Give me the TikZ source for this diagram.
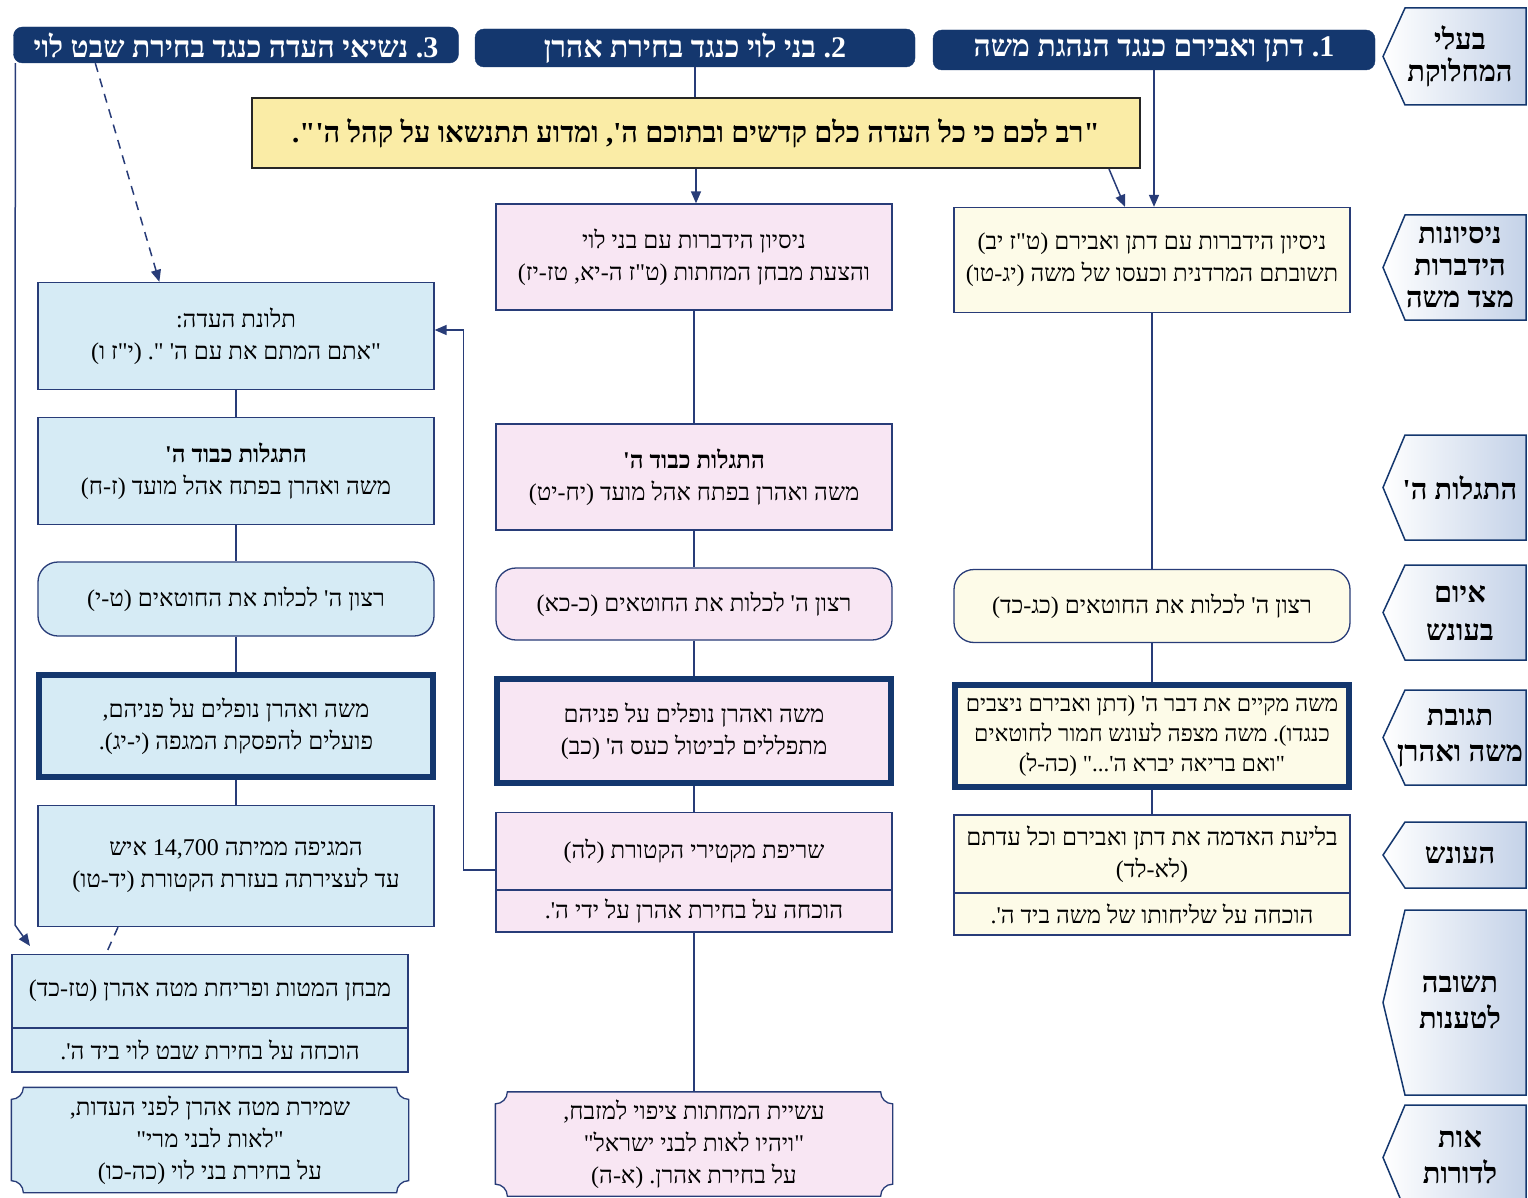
\documentclass[tikz,border=0pt]{standalone}
\usepackage{fontspec}
\setmainfont{Liberation Serif}
\newfontfamily\hebfont[Script=Hebrew]{Liberation Serif}
\TeXXeTstate=1
\frenchspacing
\usetikzlibrary{arrows.meta,calc,backgrounds}

\newcommand{\heb}[1]{\beginR #1\endR}
\newcommand{\scrollframe}[2]{%
  \draw[draw=boxblue, line width=1.3pt, fill=#2]
    ($(#1.north west)+(12pt,0pt)$) -- ($(#1.north east)+(-12pt,0pt)$)
    arc[start angle=180, end angle=270, radius=12pt]
    -- ($(#1.south east)+(0pt,12pt)$)
    arc[start angle=90, end angle=180, radius=12pt]
    -- ($(#1.south west)+(12pt,0pt)$)
    arc[start angle=0, end angle=90, radius=12pt]
    -- ($(#1.north west)+(0pt,-12pt)$)
    arc[start angle=270, end angle=360, radius=12pt] -- cycle;}

\definecolor{navy}{RGB}{20,55,110}
\definecolor{boxblue}{RGB}{40,60,120}
\definecolor{lblue}{RGB}{214,235,245}
\definecolor{lpink}{RGB}{248,230,243}
\definecolor{lcream}{RGB}{253,251,232}
\definecolor{qyellow}{RGB}{250,236,166}
\definecolor{tabblue}{RGB}{196,210,232}

\tikzset{
  box/.style={draw=boxblue, line width=1.3pt, minimum width=396pt, align=center,
    inner sep=3pt, font=\hebfont\fontsize{24}{32}\selectfont},
  bluebox/.style={box, fill=lblue},
  pinkbox/.style={box, fill=lpink},
  creambox/.style={box, fill=lcream},
  roundbox/.style={rounded corners=20pt},
  thickbox/.style={draw=navy, line width=6pt, minimum width=394pt},
  scrollbox/.style={box, draw=none},
  header/.style={fill=navy, draw=navy, rounded corners=9pt, text=white,
    font=\hebfont\bfseries\fontsize{30}{34}\selectfont},
  quotebox/.style={draw=black!85, line width=2pt, fill=qyellow, minimum width=888pt,
    minimum height=70pt, font=\hebfont\bfseries\fontsize{29}{34}\selectfont},
  tab/.style={draw=navy, line width=1.5pt, left color=white, right color=tabblue},
  tabtext/.style={align=center, font=\hebfont\bfseries\fontsize{29}{32}\selectfont},
  line/.style={draw=boxblue, line width=1.5pt},
  arr/.style={line, -{Triangle[width=10pt,length=12pt]}}
}

\begin{document}
\begin{tikzpicture}[x=1pt,y=-1pt]
\useasboundingbox (0,0) rectangle (1528,1198);

% side tabs
\foreach \nm/\ya/\yb/\txt in {
  tparties/8/105/{\heb{בעלי}\\\heb{המחלוקת}},
  ttalks/215/320/{\heb{ניסיונות}\\\heb{הידברות}\\\heb{מצד משה}},
  tglory/435/540/{\heb{התגלות ה'}},
  tthreat/565/660/{\heb{איום}\\[6pt]\heb{בעונש}},
  treact/690/785/{\heb{תגובת}\\[4pt]\heb{משה ואהרן}},
  tpunish/822/888/{\heb{העונש}},
  tanswer/910/1095/{\heb{תשובה}\\[4pt]\heb{לטענות}},
  tsign/1105/1210/{\heb{אות}\\[4pt]\heb{לדורות}}}
{
  \draw[tab] (1405,\ya) -- (1526,\ya) -- (1526,\yb) -- (1405,\yb)
    -- (1383,{(\ya+\yb)/2}) -- cycle;
  \node[tabtext] (\nm) at (1460,{(\ya+\yb)/2}) {\txt};
}

% headers
\node[header, minimum width=442pt, minimum height=40pt] (h1) at (1154,50)
  {\heb{1. דתן ואבירם כנגד הנהגת משה}};
\node[header, minimum width=440pt, minimum height=38pt] (h2) at (695,48)
  {\heb{2. בני לוי כנגד בחירת אהרן}};
\node[header, minimum width=445pt, minimum height=36pt] (h3) at (236,45)
  {\heb{3. נשיאי העדה כנגד בחירת שבט לוי}};

\node[quotebox] (q) at (696,133)
  {\heb{"רב לכם כי כל העדה כלם קדשים ובתוכם ה', ומדוע תתנשאו על קהל ה'".}};

% Dathan and Abiram
\node[creambox, minimum height=105pt] (dtalk) at (1152,260)
  {\heb{ניסיון הידברות עם דתן ואבירם (ט"ז יב)}\\\heb{תשובתם המרדנית וכעסו של משה (יג-טו)}};
\node[creambox, roundbox, minimum height=73pt] (dwill) at (1152,606)
  {\heb{רצון ה' לכלות את החוטאים (כג-כד)}};
\node[creambox, thickbox, minimum height=102pt, font=\hebfont\fontsize{23}{30}\selectfont]
  (dreact) at (1152,736)
  {\heb{משה מקיים את דבר ה' (דתן ואבירם ניצבים}\\\heb{כנגדו). משה מצפה לעונש חמור לחוטאים}\\\heb{"ואם בריאה יברא ה'..." (כה-ל)}};
\node[creambox, minimum height=78pt] (dpunish) at (1152,854)
  {\heb{בליעת האדמה את דתן ואבירם וכל עדתם}\\\heb{(לא-לד)}};
\node[creambox, minimum height=42pt] (dproof) at (1152,914)
  {\heb{הוכחה על שליחותו של משה ביד ה'.}};

% sons of Levi
\node[pinkbox, minimum height=106pt] (lttalk) at (694,257)
  {\heb{ניסיון הידברות עם בני לוי}\\\heb{והצעת מבחן המחתות (ט"ז ה-יא, טז-יז)}};
\node[pinkbox, minimum height=106pt] (lglory) at (694,477)
  {\heb{\textbf{התגלות כבוד ה'}}\\\heb{משה ואהרן בפתח אהל מועד (יח-יט)}};
\node[pinkbox, roundbox, minimum height=72pt] (lwill) at (694,604)
  {\heb{רצון ה' לכלות את החוטאים (כ-כא)}};
\node[pinkbox, thickbox, minimum height=104pt] (lreact) at (694,731)
  {\heb{משה ואהרן נופלים על פניהם}\\\heb{מתפללים לביטול כעס ה' (כב)}};
\node[pinkbox, minimum height=77pt] (lburn) at (694,851)
  {\heb{שריפת מקטירי הקטורת (לה)}};
\node[pinkbox, minimum height=42pt] (lproof) at (694,911)
  {\heb{הוכחה על בחירת אהרן על ידי ה'.}};
\node[scrollbox, minimum height=103pt] (lsign) at (694,1144)
  {\heb{עשיית המחתות ציפוי למזבח,}\\\heb{"ויהיו לאות לבני ישראל"}\\\heb{על בחירת אהרן. (א-ה)}};

% leaders of the congregation
\node[bluebox, minimum height=107pt] (kcomplain) at (236,336)
  {\heb{תלונת העדה:}\\\heb{"אתם המתם את עם ה' ". (י"ז ו)}};
\node[bluebox, minimum height=107pt] (kglory) at (236,471)
  {\heb{\textbf{התגלות כבוד ה'}}\\\heb{משה ואהרן בפתח אהל מועד (ז-ח)}};
\node[bluebox, roundbox, minimum height=74pt] (kwill) at (236,599)
  {\heb{רצון ה' לכלות את החוטאים (ט-י)}};
\node[bluebox, thickbox, minimum height=102pt] (kreact) at (236,726)
  {\heb{משה ואהרן נופלים על פניהם,}\\\heb{פועלים להפסקת המגפה (י-יג).}};
\node[bluebox, minimum height=121pt] (kplague) at (236,866)
  {\heb{המגיפה ממיתה \beginL 14,700\endL{} איש}\\\heb{עד לעצירתה בעזרת הקטורת (יד-טו)}};
\node[bluebox, minimum height=73pt] (krods) at (210,991)
  {\heb{מבחן המטות ופריחת מטה אהרן (טז-כד)}};
\node[bluebox, minimum height=44pt] (kproof) at (210,1050)
  {\heb{הוכחה על בחירת שבט לוי ביד ה'.}};
\node[scrollbox, minimum height=104pt] (ksign) at (210,1140)
  {\heb{שמירת מטה אהרן לפני העדות,}\\\heb{"לאות לבני מרי"}\\\heb{על בחירת בני לוי (כה-כו)}};

\begin{scope}[on background layer]
  \fill[white] (0,0) rectangle (1528,1198);
  \scrollframe{lsign}{lpink}
  \scrollframe{ksign}{lblue}
\end{scope}

% connectors
\draw[arr] (h1.south) -- (h1.south |- dtalk.north);
\draw[arr] ([xshift=-32pt]q.south east) -- ([xshift=-27pt]dtalk.north);
\draw[line] (h2.south) -- (h2.south |- q.north);
\draw[arr] (q.south) -- (q.south |- lttalk.north);
\draw[line] (dtalk) -- (dwill) (dwill) -- (dreact) (dreact) -- (dpunish);
\draw[line] (lttalk) -- (lglory) (lglory) -- (lwill) (lwill) -- (lreact)
  (lreact) -- (lburn) (lproof) -- (lsign);
\draw[line] (kcomplain) -- (kglory) (kglory) -- (kwill) (kwill) -- (kreact)
  (kreact) -- (kplague);
\draw[arr] ([yshift=-19pt]lburn.west) -- ++(-32,0) |- ([yshift=6pt]kcomplain.east);
\coordinate (kelbow) at (15,925);
\coordinate (kend) at (30,946);
\draw[arr] ([xshift=2pt]h3.south west) -- (kelbow) -- (kend);
\draw[arr, dashed, dash pattern=on 9pt off 7pt] ([xshift=82pt]h3.south west)
  -- ([xshift=122pt]kcomplain.north west);
\draw[line, dashed, dash pattern=on 9pt off 7pt] ([xshift=-118pt]kplague.south)
  -- ([xshift=-104pt]krods.north);
\end{tikzpicture}
\end{document}
